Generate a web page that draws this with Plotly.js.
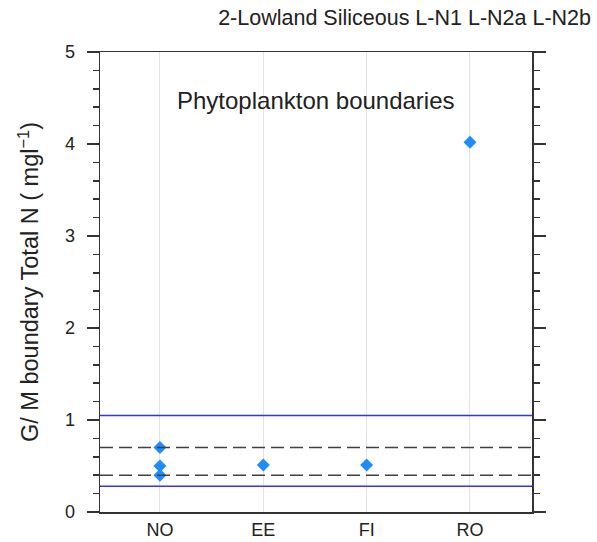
<!DOCTYPE html>
<html>
<head>
<meta charset="utf-8">
<script src="https://cdn.plot.ly/plotly-3.0.1.min.js"></script>
<style>html,body{margin:0;padding:0;background:#fff;}#chart{width:597px;height:542px;}</style>
</head>
<body>
<div id="chart"></div>
<script>
var categories = ["NO", "EE", "FI", "RO"];
var pointCats = ["NO", "NO", "NO", "EE", "FI", "RO"];
var pointValues = [0.70, 0.50, 0.40, 0.51, 0.51, 4.02];
var solidBoundaries = [1.05, 0.28];
var dashedBoundaries = [0.70, 0.40];
var yTicks = [0, 1, 2, 3, 4, 5];

var catIndex = pointCats.map(function(c){ return categories.indexOf(c); });

var traces = [{
  type: 'scatter', mode: 'markers',
  x: catIndex, y: pointValues,
  marker: {symbol: 'diamond', size: 10, color: '#1e8cff', line: {width: 0}},
  hoverinfo: 'x+y', showlegend: false
}];

var shapes = [];
solidBoundaries.forEach(function(v){
  shapes.push({type:'line', xref:'paper', yref:'y', x0:0, x1:1, y0:v, y1:v,
    line:{color:'#3333ff', width:1.5}});
});
dashedBoundaries.forEach(function(v){
  shapes.push({type:'line', xref:'paper', yref:'y', x0:0, x1:1, y0:v, y1:v,
    line:{color:'#404040', width:1.5, dash:'13px,6px'}});
});

var layout = {
  width: 597, height: 542,
  margin: {l: 100, r: 65, t: 52, b: 30},
  paper_bgcolor: '#ffffff', plot_bgcolor: '#ffffff',
  font: {family: 'Liberation Sans, Arial, sans-serif', color: '#222222', size: 18},
  title: {text: '2-Lowland Siliceous L-N1 L-N2a L-N2b', x: 0.99, xanchor: 'right',
    y: 0.967, yanchor: 'middle', font: {size: 21.5, color: '#222222'}},
  xaxis: {
    range: [-0.58, 3.6], tickmode: 'array', tickvals: [0,1,2,3], ticktext: categories,
    showgrid: true, gridcolor: '#e3e3e3', gridwidth: 1, zeroline: false,
    showline: true, linecolor: '#333333', linewidth: 1.5, mirror: true,
    ticks: '', tickfont: {size: 18}, ticklabelstandoff: 1
  },
  yaxis: {
    range: [0, 5], tickmode: 'array', tickvals: yTicks,
    showgrid: false, zeroline: false,
    showline: true, linecolor: '#333333', linewidth: 1.5, mirror: 'ticks',
    ticks: 'outside', ticklen: 12, tickwidth: 1.5, tickcolor: '#333333',
    minor: {dtick: 0.2, ticks: 'outside', ticklen: 6, tickwidth: 1.5, tickcolor: '#333333', showgrid: false},
    tickfont: {size: 18}, ticklabelstandoff: 8,
    title: {text: 'G/ M boundary Total N ( mgl<sup>−1</sup>)', font: {size: 23.5}, standoff: 19}
  },
  shapes: shapes,
  annotations: [{
    text: 'Phytoplankton boundaries', xref: 'paper', yref: 'paper',
    x: 0.5, y: 0.895, xanchor: 'center', yanchor: 'middle', showarrow: false,
    font: {size: 24, color: '#222222'}
  }]
};

Plotly.newPlot('chart', traces, layout, {displayModeBar: false, staticPlot: true});
</script>
</body>
</html>
